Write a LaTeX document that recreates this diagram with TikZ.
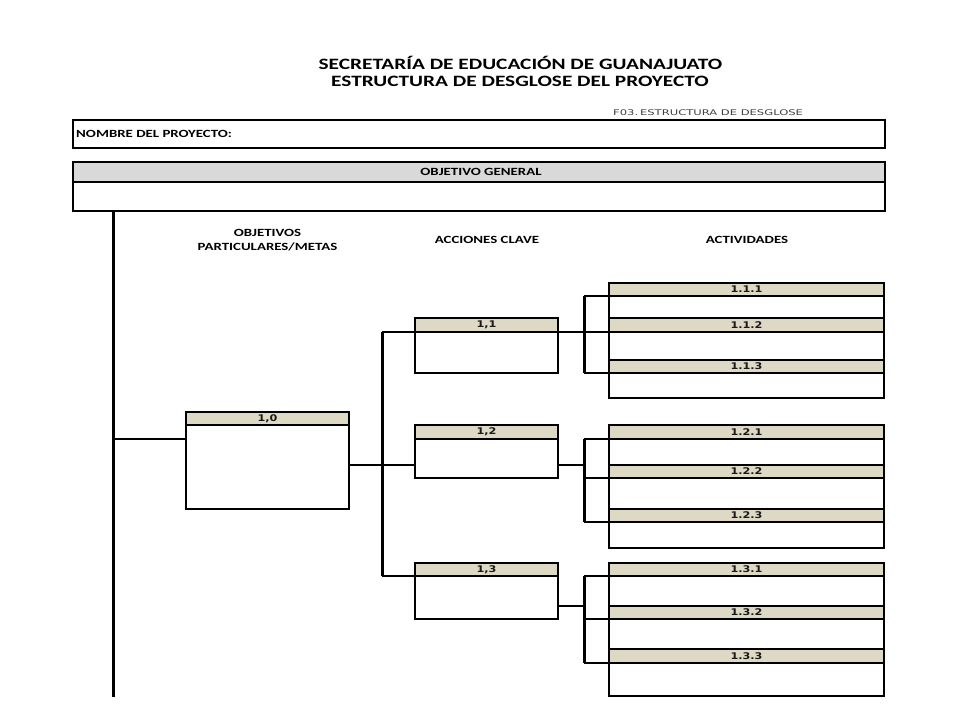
\documentclass[tikz,border=0pt]{standalone}
\usepackage{fontspec}
\setmainfont{Carlito}
\newfontfamily\dvs{DejaVu Sans}
\newfontfamily\dvsb{DejaVu Sans Bold}
\usepackage{graphicx}
\definecolor{bandtan}{HTML}{DDD9C4}
\definecolor{oggray}{HTML}{D9D9D9}
\definecolor{subgray}{HTML}{404040}
\newcommand\stretchx[1]{\scalebox{1.35}[1]{#1}}
\newcommand\lbl[1]{\scalebox{1.22}[1]{\dvsb\fontsize{9.2}{10}\selectfont #1}}
\begin{document}
\begin{tikzpicture}[x=1pt,y=-1pt,
  boxst/.style={draw=black, line width=2.6pt, fill=white, inner sep=0pt, outer sep=0pt, anchor=north west},
  bandst/.style={draw=black, line width=2.4pt, fill=bandtan, inner sep=0pt, outer sep=0pt, anchor=north west, text=black!90},
  conn/.style={draw=black, line width=2.2pt},
  busst/.style={draw=black, line width=3pt},
  hdr/.style={inner sep=0pt, anchor=base, font=\bfseries\fontsize{11}{13.3}\selectfont, align=center}
]
\useasboundingbox (0,0) rectangle (960,720);
\fill[white] (0,0) rectangle (960,720);

% titles
\node[inner sep=0pt, anchor=base] (t1) at (520.5,69.5) {\stretchx{\bfseries\fontsize{15.8}{18}\selectfont SECRETARÍA DE EDUCACIÓN DE GUANAJUATO}};
\node[inner sep=0pt, anchor=base] (t2) at (520,86) {\stretchx{\bfseries\fontsize{15.8}{18}\selectfont ESTRUCTURA DE DESGLOSE DEL PROYECTO}};
\node[inner sep=0pt, anchor=base west, text=subgray] (f03) at (613,115) {\scalebox{1.48}[1]{\dvs\fontsize{7.8}{9}\selectfont F03.\,ESTRUCTURA DE DESGLOSE}};

% nombre box
\node[boxst, minimum width=812pt, minimum height=28pt] (nombre) at (73,120) {};
\node[inner sep=0pt, anchor=base west] (nombrelbl) at (76,137.7) {\stretchx{\bfseries\fontsize{11}{12}\selectfont NOMBRE DEL PROYECTO:}};

% objetivo general
\node[boxst, minimum width=812pt, minimum height=49pt] (og) at (73,162) {};
\node[draw=black, line width=2.4pt, fill=oggray, inner sep=0pt, outer sep=0pt, anchor=north west, minimum width=812pt, minimum height=20pt] (ogh) at (73,162) {};
\node[inner sep=0pt, anchor=base] (oglbl) at (481,175.5) {\stretchx{\bfseries\fontsize{11}{12}\selectfont OBJETIVO GENERAL}};

% headers
\node[hdr] (h1) at (267.5,250) {\stretchx{OBJETIVOS}\\\stretchx{PARTICULARES/METAS}};
\node[hdr] (h2) at (487,243) {\stretchx{ACCIONES CLAVE}};
\node[hdr] (h3) at (747,243) {\stretchx{ACTIVIDADES}};

% objetivo 1,0
\node[boxst, minimum width=163pt, minimum height=97pt] (o10) at (186,412) {};
\node[bandst, minimum width=163pt, minimum height=13pt] (o10h) at (186,412) {\lbl{1,0}};

% acciones
\node[boxst, minimum width=143pt, minimum height=55pt] (a11) at (415,318) {};
\node[bandst, minimum width=143pt, minimum height=14pt] (a11h) at (415,318) {\lbl{1,1}};
\node[boxst, minimum width=143pt, minimum height=53pt] (a12) at (415,425) {};
\node[bandst, minimum width=143pt, minimum height=14pt] (a12h) at (415,425) {\lbl{1,2}};
\node[boxst, minimum width=143pt, minimum height=56pt] (a13) at (415,563) {};
\node[bandst, minimum width=143pt, minimum height=13pt] (a13h) at (415,563) {\lbl{1,3}};

% actividades group 1
\node[boxst, minimum width=275pt, minimum height=115pt] (g1) at (609,283) {};
\node[bandst, minimum width=275pt, minimum height=13pt] (x111) at (609,283) {\lbl{1.1.1}};
\node[bandst, minimum width=275pt, minimum height=14pt] (x112) at (609,318) {\lbl{1.1.2}};
\node[bandst, minimum width=275pt, minimum height=13pt] (x113) at (609,360) {\lbl{1.1.3}};
% group 2
\node[boxst, minimum width=275pt, minimum height=123pt] (g2) at (609,425) {};
\node[bandst, minimum width=275pt, minimum height=14pt] (x121) at (609,425) {\lbl{1.2.1}};
\node[bandst, minimum width=275pt, minimum height=13pt] (x122) at (609,465) {\lbl{1.2.2}};
\node[bandst, minimum width=275pt, minimum height=13pt] (x123) at (609,509) {\lbl{1.2.3}};
% group 3
\node[boxst, minimum width=275pt, minimum height=133pt] (g3) at (609,563) {};
\node[bandst, minimum width=275pt, minimum height=13pt] (x131) at (609,563) {\lbl{1.3.1}};
\node[bandst, minimum width=275pt, minimum height=13pt] (x132) at (609,606) {\lbl{1.3.2}};
\node[bandst, minimum width=275pt, minimum height=14pt] (x133) at (609,649) {\lbl{1.3.3}};

% coordinates
\coordinate (mainbot) at (113,697);
\coordinate (m10) at (113,439);
\coordinate (bus) at (382,465);
\coordinate (br1) at (584,332);
\coordinate (br2) at (584,465);
\coordinate (br3) at (584,606);

% main spine
\draw[busst] (og.south -| mainbot) -- (mainbot);
\draw[conn] (m10) -- (o10.west |- m10);

% objetivo to acciones bus
\draw[conn] (o10.east |- bus) -- (bus) -- (a12.west |- bus);
\draw[busst] (bus |- a11h.south) -- (bus |- a13h.south);
\draw[conn] (bus |- a11h.south) -- (a11h.south west);
\draw[conn] (bus |- a13h.south) -- (a13h.south west);

% acciones to actividades
\draw[conn] (a11.east |- br1) -- (br1) -- (br1 -| x112.west);
\draw[busst] (br1 |- x111.south) -- (br1 |- x113.south);
\draw[conn] (br1 |- x111.south) -- (x111.south west);
\draw[conn] (br1 |- x113.south) -- (x113.south west);

\draw[conn] (a12.east |- br2) -- (br2);
\draw[busst] (br2 |- x121.south) -- (br2 |- x123.south);
\draw[conn] (br2 |- x121.south) -- (x121.south west);
\draw[conn] (br2 |- x122.south) -- (x122.south west);
\draw[conn] (br2 |- x123.south) -- (x123.south west);

\draw[conn] (a13.east |- br3) -- (br3);
\draw[busst] (br3 |- x131.south) -- (br3 |- x133.south);
\draw[conn] (br3 |- x131.south) -- (x131.south west);
\draw[conn] (br3 |- x132.south) -- (x132.south west);
\draw[conn] (br3 |- x133.south) -- (x133.south west);
\end{tikzpicture}
\end{document}
